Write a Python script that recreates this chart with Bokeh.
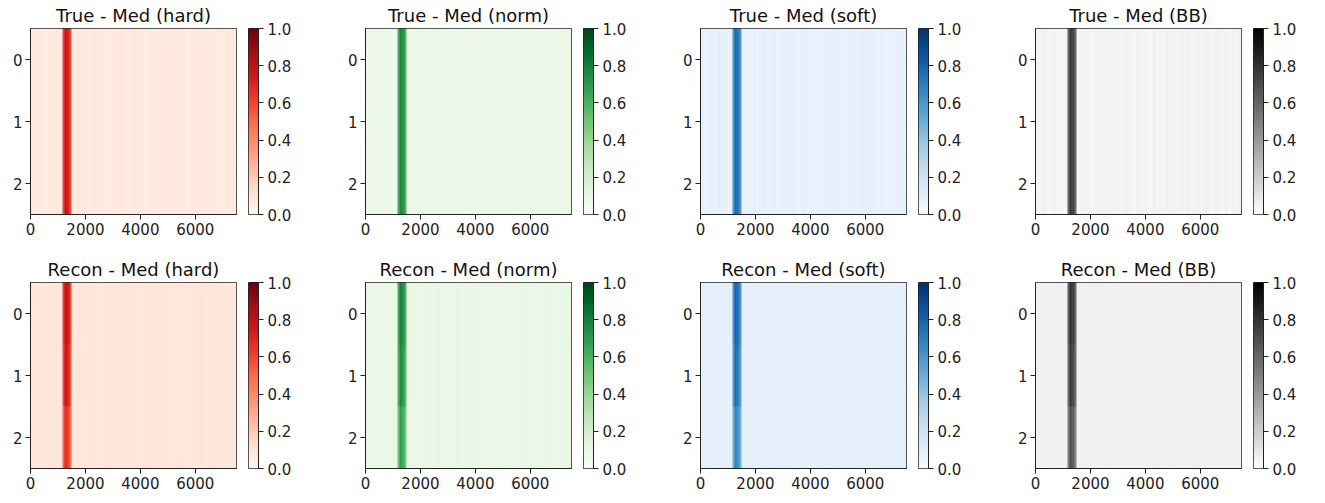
import numpy as np
from bokeh.plotting import figure
from bokeh.models import Range1d, LinearColorMapper, FixedTicker, PrintfTickFormatter
from bokeh.layouts import column, row
from bokeh.palettes import Reds256, Greens256, Blues256, Greys256
from bokeh.embed import file_html
from bokeh.resources import INLINE

# ---------------- data ----------------
n_samples = 7500
row_ids = [0, 1, 2]
x_ticks = [0, 2000, 4000, 6000]
y_ticks = [0, 1, 2]
cbar_ticks = [0.0, 0.2, 0.4, 0.6, 0.8, 1.0]

methods = ["hard", "norm", "soft", "BB"]
titles_true = ["True - Med (hard)", "True - Med (norm)", "True - Med (soft)", "True - Med (BB)"]
titles_recon = ["Recon - Med (hard)", "Recon - Med (norm)", "Recon - Med (soft)", "Recon - Med (BB)"]

col_width = 25          # samples per image column
stripe_width = 125      # samples per background stripe

# faint background stripes (deviation from panel level), 60 stripes across 7500 samples
stripes_true = [0.000, -0.010, 0.005, -0.005, -0.012, 0.004, -0.006, 0.000, -0.011, 0.003,
                -0.004, 0.005, -0.009, 0.002, -0.006, 0.004, -0.012, 0.000, 0.005, -0.007,
                -0.002, 0.004, -0.010, 0.003, 0.000, -0.008, 0.005, -0.003, -0.011, 0.002,
                0.004, -0.006, 0.001, -0.012, 0.005, -0.004, 0.000, -0.009, 0.003, -0.002,
                0.005, -0.010, 0.002, -0.005, 0.004, -0.012, 0.000, 0.003, -0.007, 0.005,
                -0.003, -0.010, 0.004, 0.000, -0.008, 0.003, -0.012, 0.005, -0.004, 0.002]
stripes_recon = [0.000, -0.004, 0.002, -0.002, -0.005, 0.002, -0.003, 0.000, -0.004, 0.001,
                 -0.002, 0.002, -0.004, 0.001, -0.003, 0.002, -0.005, 0.000, 0.002, -0.003,
                 -0.001, 0.002, -0.004, 0.001, 0.000, -0.003, 0.002, -0.001, -0.004, 0.001,
                 0.002, -0.003, 0.000, -0.005, 0.002, -0.002, 0.000, -0.004, 0.001, -0.001,
                 0.002, -0.004, 0.001, -0.002, 0.002, -0.005, 0.000, 0.001, -0.003, 0.002,
                 -0.001, -0.004, 0.002, 0.000, -0.003, 0.001, -0.005, 0.002, -0.002, 0.001]

# background level of each panel
level_true = [0.07, 0.08, 0.08, 0.05]
level_recon = [0.09, 0.09, 0.09, 0.06]

# peak band: sample ranges and value per row (rows 0, 1, 2)
peak_start = [1175, 1225, 1325, 1425]
peak_end = [1225, 1325, 1425, 1475]
peak_true = [[0.60, 0.77, 0.72, 0.58], [0.60, 0.77, 0.72, 0.58], [0.60, 0.77, 0.72, 0.58]]
peak_recon = [[0.62, 0.80, 0.74, 0.58], [0.58, 0.77, 0.70, 0.55], [0.50, 0.68, 0.62, 0.48]]

palettes = [Reds256, Greens256, Blues256, Greys256]

FONT = "DejaVu Sans"
INK = "#222222"
FRAME_W = 206
FRAME_H = 186
LEFT = 30
GAP = 12
BAR_W = 10


def light_first(pal):
    pal = list(pal)
    c = pal[0].lstrip("#")
    lum = sum(int(c[i:i + 2], 16) for i in (0, 2, 4))
    return pal if lum > 380 else pal[::-1]


def build(stripes, level, peaks):
    rep = stripe_width // col_width
    cols = np.repeat(level + np.array(stripes), rep)
    arr = np.tile(cols, (len(row_ids), 1)).astype(float)
    for r in range(len(row_ids)):
        for s, e, v in zip(peak_start, peak_end, peaks[r]):
            arr[r, s // col_width: e // col_width] = v
    return arr


def style_axis(ax, ticks):
    ax.ticker = FixedTicker(ticks=ticks)
    ax.major_label_text_font = FONT
    ax.major_label_text_font_size = "15px"
    ax.major_label_text_color = INK
    ax.major_tick_out = 5
    ax.major_tick_in = 0
    ax.major_tick_line_color = INK
    ax.minor_tick_line_color = None
    ax.axis_line_color = INK
    ax.major_label_standoff = 3


def heatmap(title, data, mapper, top, bottom):
    p = figure(width=LEFT + FRAME_W + GAP, height=top + FRAME_H + bottom, title=title,
               x_range=Range1d(-0.5, n_samples - 0.5), y_range=Range1d(2.5, -0.5),
               output_backend="svg", toolbar_location=None, tools="",
               min_border_left=LEFT, min_border_right=GAP,
               min_border_top=top, min_border_bottom=bottom)
    p.image(image=[data], x=-0.5, y=-0.5, dw=n_samples, dh=len(row_ids), color_mapper=mapper)
    p.title.align = "center"
    p.title.vertical_align = "middle"
    p.title.text_font = FONT
    p.title.text_font_size = "18px"
    p.title.text_font_style = "normal"
    p.title.text_color = "#111111"
    p.title.text_line_height = 1.0
    p.title.standoff = 4
    p.xgrid.visible = False
    p.ygrid.visible = False
    p.outline_line_color = INK
    p.outline_line_width = 1
    style_axis(p.xaxis, x_ticks)
    style_axis(p.yaxis, y_ticks)
    return p


def colorbar(mapper, right, top, bottom):
    p = figure(width=BAR_W + right, height=top + FRAME_H + bottom,
               x_range=Range1d(0, 1), y_range=Range1d(0, 1),
               x_axis_location=None, y_axis_location="right",
               output_backend="svg", toolbar_location=None, tools="",
               min_border_left=0, min_border_right=right,
               min_border_top=top, min_border_bottom=bottom)
    grad = np.linspace(0.0, 1.0, 256).reshape(256, 1)
    p.image(image=[grad], x=0, y=0, dw=1, dh=1, color_mapper=mapper)
    p.xgrid.visible = False
    p.ygrid.visible = False
    p.outline_line_color = INK
    p.outline_line_width = 1
    style_axis(p.yaxis, cbar_ticks)
    p.yaxis.formatter = PrintfTickFormatter(format="%.1f")
    p.yaxis.major_label_standoff = 4
    return p


rights = [77, 77, 77, 62]


def make_row(titles, stripes, levels, peaks, top, bottom):
    items = []
    for i in range(4):
        mapper = LinearColorMapper(palette=light_first(palettes[i]), low=0.0, high=1.0)
        items.append(heatmap(titles[i], build(stripes, levels[i], peaks), mapper, top, bottom))
        items.append(colorbar(mapper, rights[i], top, bottom))
    return row(*items, spacing=0)


top_row = make_row(titles_true, stripes_true, level_true, peak_true, 28, 40)
bot_row = make_row(titles_recon, stripes_recon, level_recon, peak_recon, 28, 35)

layout = column(top_row, bot_row, spacing=0)
open("out.html", "w").write(file_html(layout, INLINE))
